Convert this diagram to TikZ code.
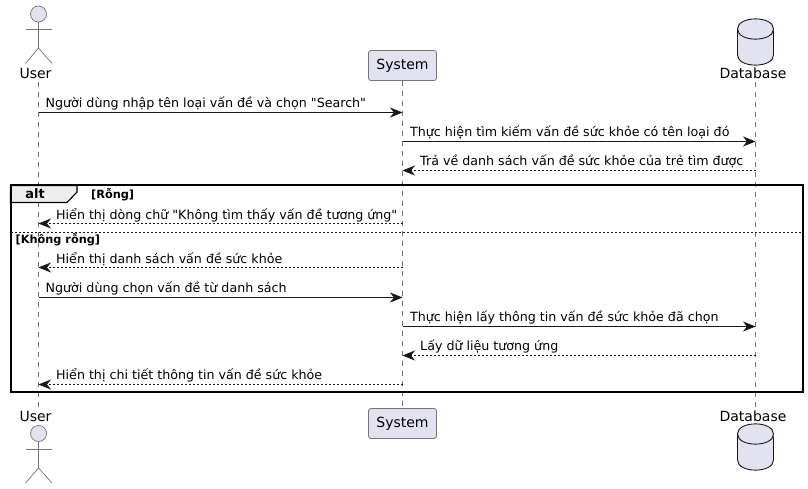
\documentclass[tikz,border=0pt]{standalone}
\usepackage{fontspec}
\setmainfont{DejaVu Sans}[Ligatures=TeXOff]
\usetikzlibrary{arrows.meta}
\definecolor{pfill}{HTML}{E2E2F0}
\definecolor{pline}{HTML}{181818}
\definecolor{tabfill}{HTML}{EEEEEE}
\tikzset{
  x=1pt,y=-1pt,
  lifeline/.style={draw=pline!60,line width=0.6pt,dash pattern=on 5pt off 5pt},
  msg/.style={draw=pline,line width=0.9pt,-{Stealth[length=12.5pt,width=10pt,inset=4pt]}},
  ret/.style={msg,line width=0.7pt,dash pattern=on 2pt off 2pt},
  mlabel/.style={anchor=base west,inner sep=0pt,font=\fontsize{12.65}{13}\selectfont},
  plabel/.style={anchor=base,inner sep=0pt,font=\fontsize{14}{14}\selectfont},
  flabel/.style={anchor=base west,inner sep=0pt,font=\fontsize{11.3}{11}\selectfont\bfseries},
  actorline/.style={draw=pline!60,line width=0.7pt},
  actorhead/.style={circle,draw=pline!60,fill=pfill,line width=0.7pt,minimum size=16pt,inner sep=0pt},
  sysbox/.style={draw=pline!60,fill=pfill,line width=0.8pt,rounded corners=2.5pt,minimum width=68pt,minimum height=30pt,inner sep=0pt,font=\fontsize{14}{14}\selectfont},
  dbshape/.style={draw=pline,fill=pfill,line width=0.9pt},
  framebox/.style={draw=black,line width=2pt},
}
\begin{document}
\begin{tikzpicture}
\useasboundingbox (0,0) rectangle (808,489);
\fill[white] (0,0) rectangle (808,489);
% lifelines
\coordinate (ut) at (38.5,82);
\coordinate (ub) at (38.5,408);
\coordinate (st) at (402.5,81);
\coordinate (sb) at (402.5,408);
\coordinate (dt) at (755.5,82);
\coordinate (db) at (755.5,408);
\draw[lifeline] (ut) -- (ub);
\draw[lifeline] (st) -- (sb);
\draw[lifeline] (dt) -- (db);
% frame
\draw[framebox] (10.5,185.5) rectangle (802.5,392);
\draw[draw=black,line width=1.1pt,fill=tabfill] (10.5,185.5) -- (77,185.5) -- (77,192) -- (67,202.5) -- (10.5,202.5) -- cycle;
\draw[framebox,line cap=rect] (10.5,185.5) -- (802.5,185.5);
\draw[framebox] (10.5,185.5) -- (10.5,203);
\node[anchor=base,inner sep=0pt,font=\fontsize{13}{13}\selectfont\bfseries] (alt) at (35,199) {alt};
\node[flabel] (c1) at (91,198) {[Rỗng]};
\draw[pline,line width=0.7pt,dash pattern=on 2pt off 2pt] (11,232.5) -- (802,232.5);
\node[flabel] (c2) at (15.5,243) {[Không rỗng]};
% top participants
\node[actorhead] (uh) at (38.5,14) {};
\coordinate (ua) at (38.5,48);
\draw[actorline] (uh.south) -- (ua);
\draw[actorline] (25.5,29) -- (52,29);
\draw[actorline] (25.5,63.5) -- (ua) -- (52,63.5);
\node[plabel] (ulab) at (35.5,79) {User};
\node[sysbox] (s) at (402.5,65.5) {System};
\draw[dbshape] (737.5,29) .. controls (737.5,15.5) and (773.5,15.5) .. (773.5,29) -- (773.5,55) .. controls (773.5,68.5) and (737.5,68.5) .. (737.5,55) -- cycle;
\draw[dbshape] (737.5,29) .. controls (737.5,42.5) and (773.5,42.5) .. (773.5,29);
\node[plabel] (dlab) at (753,79) {Database};
% bottom participants
\node[plabel] (ulab2) at (35.5,421) {User};
\node[actorhead] (uh2) at (38.5,433.5) {};
\coordinate (ua2) at (38.5,468);
\draw[actorline] (uh2.south) -- (ua2);
\draw[actorline] (25.5,449.5) -- (52,449.5);
\draw[actorline] (25.5,483) -- (ua2) -- (52,483);
\node[sysbox] (s2) at (402.5,423.5) {System};
\draw[dbshape] (737.5,434) .. controls (737.5,420.5) and (773.5,420.5) .. (773.5,434) -- (773.5,460) .. controls (773.5,473.5) and (737.5,473.5) .. (737.5,460) -- cycle;
\draw[dbshape] (737.5,434) .. controls (737.5,447.5) and (773.5,447.5) .. (773.5,434);
\node[plabel] (dlab2) at (753,421) {Database};
% message end points
\foreach \n/\y in {1/112.5,2/141.5,3/170.5,4/223.5,5/267.5,6/297.5,7/326.5,8/355.5,9/384.5}{
  \coordinate (u\n) at (38.5,\y);
  \coordinate (s\n) at (402.5,\y);
  \coordinate (d\n) at (755.5,\y);
}
\draw[msg] (u1) -- (s1);
\node[mlabel] (m1) at (45.5,108) {Người dùng nhập tên loại vấn đề và chọn "Search"};
\draw[msg] (s2) -- (d2);
\node[mlabel] (m2) at (410,137) {Thực hiện tìm kiếm vấn đề sức khỏe có tên loại đó};
\draw[ret] (d3) -- (s3);
\node[mlabel] (m3) at (420,166) {Trả về danh sách vấn đề sức khỏe của trẻ tìm được};
\draw[ret] (s4) -- (u4);
\node[mlabel] (m4) at (56,219) {Hiển thị dòng chữ "Không tìm thấy vấn đề tương ứng"};
\draw[ret] (s5) -- (u5);
\node[mlabel] (m5) at (56,263) {Hiển thị danh sách vấn đề sức khỏe};
\draw[msg] (u6) -- (s6);
\node[mlabel] (m6) at (45.5,292) {Người dùng chọn vấn đề từ danh sách};
\draw[msg] (s7) -- (d7);
\node[mlabel] (m7) at (410,321) {Thực hiện lấy thông tin vấn đề sức khỏe đã chọn};
\draw[ret] (d8) -- (s8);
\node[mlabel] (m8) at (420,350) {Lấy dữ liệu tương ứng};
\draw[ret] (s9) -- (u9);
\node[mlabel] (m9) at (56,379) {Hiển thị chi tiết thông tin vấn đề sức khỏe};
\end{tikzpicture}
\end{document}
